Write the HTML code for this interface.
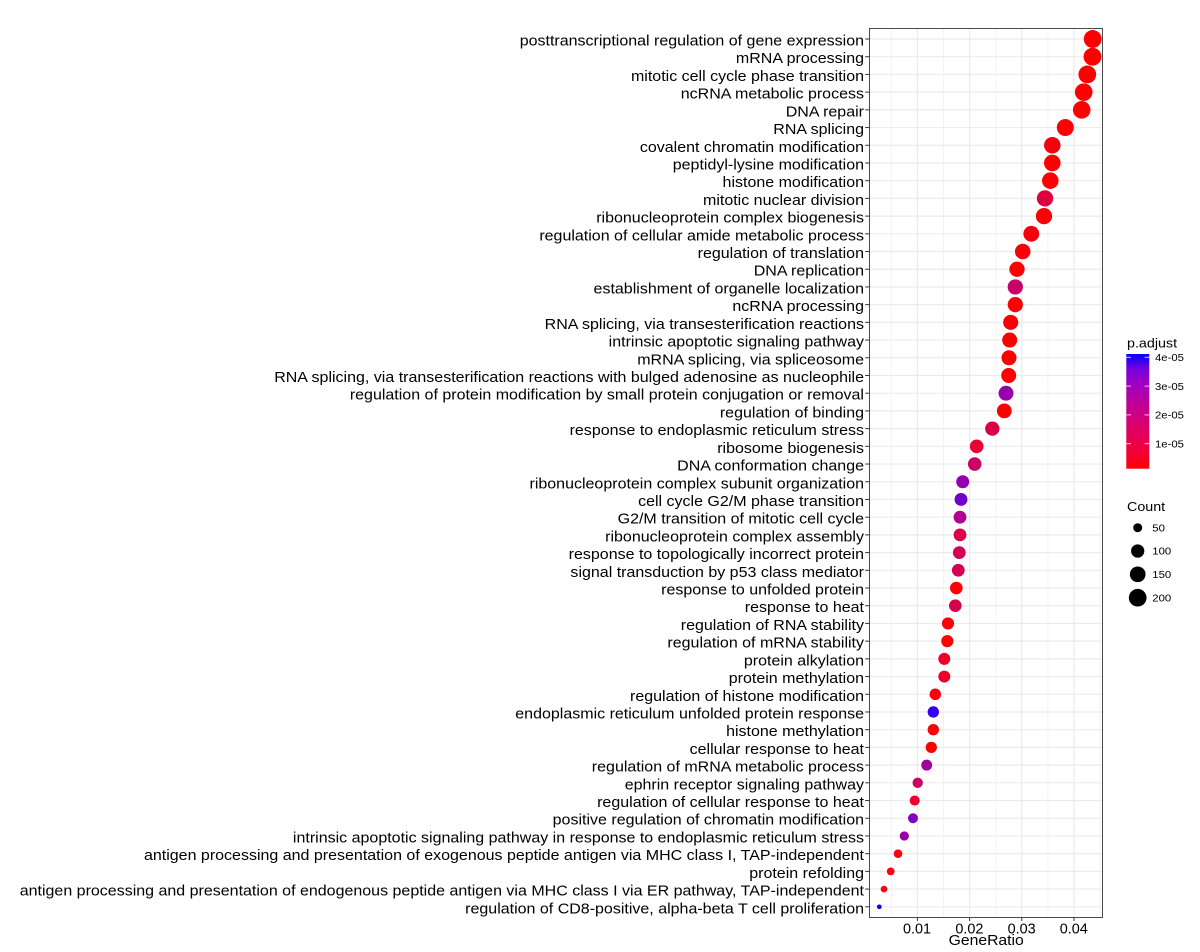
<!DOCTYPE html>
<html>
<head>
<meta charset="utf-8">
<style>
html,body{margin:0;padding:0;background:#fff;}
svg{display:block;}
text{font-family:"Liberation Sans",Arial,sans-serif;fill:#000;}
</style>
</head>
<body>
<svg width="1200" height="952" viewBox="0 0 1200 952" xmlns="http://www.w3.org/2000/svg">
<defs>
<linearGradient id="cb" x1="0" y1="1" x2="0" y2="0">
<stop offset="0" stop-color="#FF0000"/>
<stop offset="0.125" stop-color="#F40031"/>
<stop offset="0.25" stop-color="#E8004F"/>
<stop offset="0.375" stop-color="#DA006C"/>
<stop offset="0.5" stop-color="#CA0089"/>
<stop offset="0.625" stop-color="#B500A5"/>
<stop offset="0.75" stop-color="#9A00C3"/>
<stop offset="0.875" stop-color="#7300E0"/>
<stop offset="1" stop-color="#0000FF"/>
</linearGradient>
</defs>
<rect x="0" y="0" width="1200" height="952" fill="#fff"/>

<rect x="869.5" y="28.5" width="233" height="889" fill="#fff"/>

<g stroke="#F2F2F2" stroke-width="0.9">
<line x1="891.3" y1="29" x2="891.3" y2="917"/>
<line x1="943.5" y1="29" x2="943.5" y2="917"/>
<line x1="995.7" y1="29" x2="995.7" y2="917"/>
<line x1="1047.9" y1="29" x2="1047.9" y2="917"/>
<line x1="1100.1" y1="29" x2="1100.1" y2="917"/>
</g>
<g stroke="#EBEBEB" stroke-width="1.2">
<line x1="917.4" y1="29" x2="917.4" y2="917"/>
<line x1="969.6" y1="29" x2="969.6" y2="917"/>
<line x1="1021.8" y1="29" x2="1021.8" y2="917"/>
<line x1="1074.0" y1="29" x2="1074.0" y2="917"/>
</g>
<g stroke="#EBEBEB" stroke-width="1.2">
<line x1="870" x2="1102" y1="39.0" y2="39.0"/>
<line x1="870" x2="1102" y1="56.71" y2="56.71"/>
<line x1="870" x2="1102" y1="74.42" y2="74.42"/>
<line x1="870" x2="1102" y1="92.13" y2="92.13"/>
<line x1="870" x2="1102" y1="109.84" y2="109.84"/>
<line x1="870" x2="1102" y1="127.55" y2="127.55"/>
<line x1="870" x2="1102" y1="145.26" y2="145.26"/>
<line x1="870" x2="1102" y1="162.97" y2="162.97"/>
<line x1="870" x2="1102" y1="180.68" y2="180.68"/>
<line x1="870" x2="1102" y1="198.39" y2="198.39"/>
<line x1="870" x2="1102" y1="216.1" y2="216.1"/>
<line x1="870" x2="1102" y1="233.81" y2="233.81"/>
<line x1="870" x2="1102" y1="251.52" y2="251.52"/>
<line x1="870" x2="1102" y1="269.23" y2="269.23"/>
<line x1="870" x2="1102" y1="286.94" y2="286.94"/>
<line x1="870" x2="1102" y1="304.65" y2="304.65"/>
<line x1="870" x2="1102" y1="322.36" y2="322.36"/>
<line x1="870" x2="1102" y1="340.07" y2="340.07"/>
<line x1="870" x2="1102" y1="357.78" y2="357.78"/>
<line x1="870" x2="1102" y1="375.49" y2="375.49"/>
<line x1="870" x2="1102" y1="393.2" y2="393.2"/>
<line x1="870" x2="1102" y1="410.91" y2="410.91"/>
<line x1="870" x2="1102" y1="428.62" y2="428.62"/>
<line x1="870" x2="1102" y1="446.33" y2="446.33"/>
<line x1="870" x2="1102" y1="464.04" y2="464.04"/>
<line x1="870" x2="1102" y1="481.75" y2="481.75"/>
<line x1="870" x2="1102" y1="499.46" y2="499.46"/>
<line x1="870" x2="1102" y1="517.17" y2="517.17"/>
<line x1="870" x2="1102" y1="534.88" y2="534.88"/>
<line x1="870" x2="1102" y1="552.59" y2="552.59"/>
<line x1="870" x2="1102" y1="570.3" y2="570.3"/>
<line x1="870" x2="1102" y1="588.01" y2="588.01"/>
<line x1="870" x2="1102" y1="605.72" y2="605.72"/>
<line x1="870" x2="1102" y1="623.43" y2="623.43"/>
<line x1="870" x2="1102" y1="641.14" y2="641.14"/>
<line x1="870" x2="1102" y1="658.85" y2="658.85"/>
<line x1="870" x2="1102" y1="676.56" y2="676.56"/>
<line x1="870" x2="1102" y1="694.27" y2="694.27"/>
<line x1="870" x2="1102" y1="711.98" y2="711.98"/>
<line x1="870" x2="1102" y1="729.69" y2="729.69"/>
<line x1="870" x2="1102" y1="747.4" y2="747.4"/>
<line x1="870" x2="1102" y1="765.11" y2="765.11"/>
<line x1="870" x2="1102" y1="782.82" y2="782.82"/>
<line x1="870" x2="1102" y1="800.53" y2="800.53"/>
<line x1="870" x2="1102" y1="818.24" y2="818.24"/>
<line x1="870" x2="1102" y1="835.95" y2="835.95"/>
<line x1="870" x2="1102" y1="853.66" y2="853.66"/>
<line x1="870" x2="1102" y1="871.37" y2="871.37"/>
<line x1="870" x2="1102" y1="889.08" y2="889.08"/>
<line x1="870" x2="1102" y1="906.79" y2="906.79"/>
</g>

<g>
<circle cx="1092.7" cy="39.0" r="8.95" fill="#FF0000"/>
<circle cx="1092.5" cy="56.71" r="8.95" fill="#FF0000"/>
<circle cx="1087.3" cy="74.42" r="8.87" fill="#FF0000"/>
<circle cx="1083.7" cy="92.13" r="8.81" fill="#FF0000"/>
<circle cx="1081.7" cy="109.84" r="8.78" fill="#FF0000"/>
<circle cx="1065.3" cy="127.55" r="8.51" fill="#FF0000"/>
<circle cx="1052.3" cy="145.26" r="8.29" fill="#F5000F"/>
<circle cx="1052.3" cy="162.97" r="8.29" fill="#FF0000"/>
<circle cx="1050.3" cy="180.68" r="8.26" fill="#FD0004"/>
<circle cx="1045.0" cy="198.39" r="8.17" fill="#E0003E"/>
<circle cx="1044.0" cy="216.1" r="8.15" fill="#FD0006"/>
<circle cx="1031.3" cy="233.81" r="7.92" fill="#F5000F"/>
<circle cx="1022.7" cy="251.52" r="7.76" fill="#FC0008"/>
<circle cx="1017.0" cy="269.23" r="7.65" fill="#FF0000"/>
<circle cx="1015.3" cy="286.94" r="7.62" fill="#C8006A"/>
<circle cx="1015.3" cy="304.65" r="7.62" fill="#FF0000"/>
<circle cx="1010.7" cy="322.36" r="7.53" fill="#FC0008"/>
<circle cx="1009.7" cy="340.07" r="7.51" fill="#FF0000"/>
<circle cx="1009.0" cy="357.78" r="7.50" fill="#FF0000"/>
<circle cx="1008.7" cy="375.49" r="7.49" fill="#FF0000"/>
<circle cx="1006.0" cy="393.2" r="7.44" fill="#9600AA"/>
<circle cx="1004.3" cy="410.91" r="7.40" fill="#FF0000"/>
<circle cx="992.3" cy="428.62" r="7.15" fill="#DA0048"/>
<circle cx="976.7" cy="446.33" r="6.81" fill="#EA0035"/>
<circle cx="974.7" cy="464.04" r="6.76" fill="#CA0068"/>
<circle cx="962.7" cy="481.75" r="6.48" fill="#9200B0"/>
<circle cx="961.0" cy="499.46" r="6.43" fill="#7000CC"/>
<circle cx="960.0" cy="517.17" r="6.41" fill="#B20090"/>
<circle cx="960.0" cy="534.88" r="6.41" fill="#DA004A"/>
<circle cx="959.3" cy="552.59" r="6.39" fill="#D20058"/>
<circle cx="958.3" cy="570.3" r="6.37" fill="#D40055"/>
<circle cx="956.3" cy="588.01" r="6.31" fill="#FF0008"/>
<circle cx="955.3" cy="605.72" r="6.29" fill="#D8004C"/>
<circle cx="948.0" cy="623.43" r="6.10" fill="#FF0008"/>
<circle cx="947.3" cy="641.14" r="6.08" fill="#FF0005"/>
<circle cx="944.3" cy="658.85" r="5.99" fill="#EE0028"/>
<circle cx="944.3" cy="676.56" r="5.99" fill="#EE0028"/>
<circle cx="935.3" cy="694.27" r="5.73" fill="#F8000E"/>
<circle cx="933.3" cy="711.98" r="5.67" fill="#3300EE"/>
<circle cx="933.3" cy="729.69" r="5.67" fill="#FF0008"/>
<circle cx="931.3" cy="747.4" r="5.61" fill="#FF0000"/>
<circle cx="926.7" cy="765.11" r="5.46" fill="#A0009E"/>
<circle cx="917.7" cy="782.82" r="5.15" fill="#CA0062"/>
<circle cx="914.7" cy="800.53" r="5.04" fill="#EE002E"/>
<circle cx="913.0" cy="818.24" r="4.97" fill="#8000C4"/>
<circle cx="904.3" cy="835.95" r="4.61" fill="#9A00AA"/>
<circle cx="898.0" cy="853.66" r="4.30" fill="#FF0010"/>
<circle cx="890.7" cy="871.37" r="3.88" fill="#FF0010"/>
<circle cx="884.0" cy="889.08" r="3.33" fill="#FF0010"/>
<circle cx="879.3" cy="906.79" r="2.35" fill="#0000FF"/>
</g>

<rect x="869.5" y="28.5" width="233" height="889" fill="none" stroke="#4a4a4a" stroke-width="1"/>

<g stroke="#333" stroke-width="1">
<line x1="865.2" x2="869.5" y1="39.0" y2="39.0"/>
<line x1="865.2" x2="869.5" y1="56.71" y2="56.71"/>
<line x1="865.2" x2="869.5" y1="74.42" y2="74.42"/>
<line x1="865.2" x2="869.5" y1="92.13" y2="92.13"/>
<line x1="865.2" x2="869.5" y1="109.84" y2="109.84"/>
<line x1="865.2" x2="869.5" y1="127.55" y2="127.55"/>
<line x1="865.2" x2="869.5" y1="145.26" y2="145.26"/>
<line x1="865.2" x2="869.5" y1="162.97" y2="162.97"/>
<line x1="865.2" x2="869.5" y1="180.68" y2="180.68"/>
<line x1="865.2" x2="869.5" y1="198.39" y2="198.39"/>
<line x1="865.2" x2="869.5" y1="216.1" y2="216.1"/>
<line x1="865.2" x2="869.5" y1="233.81" y2="233.81"/>
<line x1="865.2" x2="869.5" y1="251.52" y2="251.52"/>
<line x1="865.2" x2="869.5" y1="269.23" y2="269.23"/>
<line x1="865.2" x2="869.5" y1="286.94" y2="286.94"/>
<line x1="865.2" x2="869.5" y1="304.65" y2="304.65"/>
<line x1="865.2" x2="869.5" y1="322.36" y2="322.36"/>
<line x1="865.2" x2="869.5" y1="340.07" y2="340.07"/>
<line x1="865.2" x2="869.5" y1="357.78" y2="357.78"/>
<line x1="865.2" x2="869.5" y1="375.49" y2="375.49"/>
<line x1="865.2" x2="869.5" y1="393.2" y2="393.2"/>
<line x1="865.2" x2="869.5" y1="410.91" y2="410.91"/>
<line x1="865.2" x2="869.5" y1="428.62" y2="428.62"/>
<line x1="865.2" x2="869.5" y1="446.33" y2="446.33"/>
<line x1="865.2" x2="869.5" y1="464.04" y2="464.04"/>
<line x1="865.2" x2="869.5" y1="481.75" y2="481.75"/>
<line x1="865.2" x2="869.5" y1="499.46" y2="499.46"/>
<line x1="865.2" x2="869.5" y1="517.17" y2="517.17"/>
<line x1="865.2" x2="869.5" y1="534.88" y2="534.88"/>
<line x1="865.2" x2="869.5" y1="552.59" y2="552.59"/>
<line x1="865.2" x2="869.5" y1="570.3" y2="570.3"/>
<line x1="865.2" x2="869.5" y1="588.01" y2="588.01"/>
<line x1="865.2" x2="869.5" y1="605.72" y2="605.72"/>
<line x1="865.2" x2="869.5" y1="623.43" y2="623.43"/>
<line x1="865.2" x2="869.5" y1="641.14" y2="641.14"/>
<line x1="865.2" x2="869.5" y1="658.85" y2="658.85"/>
<line x1="865.2" x2="869.5" y1="676.56" y2="676.56"/>
<line x1="865.2" x2="869.5" y1="694.27" y2="694.27"/>
<line x1="865.2" x2="869.5" y1="711.98" y2="711.98"/>
<line x1="865.2" x2="869.5" y1="729.69" y2="729.69"/>
<line x1="865.2" x2="869.5" y1="747.4" y2="747.4"/>
<line x1="865.2" x2="869.5" y1="765.11" y2="765.11"/>
<line x1="865.2" x2="869.5" y1="782.82" y2="782.82"/>
<line x1="865.2" x2="869.5" y1="800.53" y2="800.53"/>
<line x1="865.2" x2="869.5" y1="818.24" y2="818.24"/>
<line x1="865.2" x2="869.5" y1="835.95" y2="835.95"/>
<line x1="865.2" x2="869.5" y1="853.66" y2="853.66"/>
<line x1="865.2" x2="869.5" y1="871.37" y2="871.37"/>
<line x1="865.2" x2="869.5" y1="889.08" y2="889.08"/>
<line x1="865.2" x2="869.5" y1="906.79" y2="906.79"/>
</g>

<g stroke="#333" stroke-width="1">
<line x1="917.4" x2="917.4" y1="917.5" y2="921"/>
<line x1="969.6" x2="969.6" y1="917.5" y2="921"/>
<line x1="1021.8" x2="1021.8" y1="917.5" y2="921"/>
<line x1="1074.0" x2="1074.0" y1="917.5" y2="921"/>
</g>

<g font-size="14.4" text-anchor="end">
<text transform="translate(864 45.5) scale(1.112 1)">posttranscriptional regulation of gene expression</text>
<text transform="translate(864 63.21) scale(1.112 1)">mRNA processing</text>
<text transform="translate(864 80.92) scale(1.112 1)">mitotic cell cycle phase transition</text>
<text transform="translate(864 98.63) scale(1.112 1)">ncRNA metabolic process</text>
<text transform="translate(864 116.34) scale(1.112 1)">DNA repair</text>
<text transform="translate(864 134.05) scale(1.112 1)">RNA splicing</text>
<text transform="translate(864 151.76) scale(1.112 1)">covalent chromatin modification</text>
<text transform="translate(864 169.47) scale(1.112 1)">peptidyl-lysine modification</text>
<text transform="translate(864 187.18) scale(1.112 1)">histone modification</text>
<text transform="translate(864 204.89) scale(1.112 1)">mitotic nuclear division</text>
<text transform="translate(864 222.6) scale(1.112 1)">ribonucleoprotein complex biogenesis</text>
<text transform="translate(864 240.31) scale(1.112 1)">regulation of cellular amide metabolic process</text>
<text transform="translate(864 258.02) scale(1.112 1)">regulation of translation</text>
<text transform="translate(864 275.73) scale(1.112 1)">DNA replication</text>
<text transform="translate(864 293.44) scale(1.112 1)">establishment of organelle localization</text>
<text transform="translate(864 311.15) scale(1.112 1)">ncRNA processing</text>
<text transform="translate(864 328.86) scale(1.112 1)">RNA splicing, via transesterification reactions</text>
<text transform="translate(864 346.57) scale(1.112 1)">intrinsic apoptotic signaling pathway</text>
<text transform="translate(864 364.28) scale(1.112 1)">mRNA splicing, via spliceosome</text>
<text transform="translate(864 381.99) scale(1.112 1)">RNA splicing, via transesterification reactions with bulged adenosine as nucleophile</text>
<text transform="translate(864 399.7) scale(1.112 1)">regulation of protein modification by small protein conjugation or removal</text>
<text transform="translate(864 417.41) scale(1.112 1)">regulation of binding</text>
<text transform="translate(864 435.12) scale(1.112 1)">response to endoplasmic reticulum stress</text>
<text transform="translate(864 452.83) scale(1.112 1)">ribosome biogenesis</text>
<text transform="translate(864 470.54) scale(1.112 1)">DNA conformation change</text>
<text transform="translate(864 488.25) scale(1.112 1)">ribonucleoprotein complex subunit organization</text>
<text transform="translate(864 505.96) scale(1.112 1)">cell cycle G2/M phase transition</text>
<text transform="translate(864 523.67) scale(1.112 1)">G2/M transition of mitotic cell cycle</text>
<text transform="translate(864 541.38) scale(1.112 1)">ribonucleoprotein complex assembly</text>
<text transform="translate(864 559.09) scale(1.112 1)">response to topologically incorrect protein</text>
<text transform="translate(864 576.8) scale(1.112 1)">signal transduction by p53 class mediator</text>
<text transform="translate(864 594.51) scale(1.112 1)">response to unfolded protein</text>
<text transform="translate(864 612.22) scale(1.112 1)">response to heat</text>
<text transform="translate(864 629.93) scale(1.112 1)">regulation of RNA stability</text>
<text transform="translate(864 647.64) scale(1.112 1)">regulation of mRNA stability</text>
<text transform="translate(864 665.35) scale(1.112 1)">protein alkylation</text>
<text transform="translate(864 683.06) scale(1.112 1)">protein methylation</text>
<text transform="translate(864 700.77) scale(1.112 1)">regulation of histone modification</text>
<text transform="translate(864 718.48) scale(1.112 1)">endoplasmic reticulum unfolded protein response</text>
<text transform="translate(864 736.19) scale(1.112 1)">histone methylation</text>
<text transform="translate(864 753.9) scale(1.112 1)">cellular response to heat</text>
<text transform="translate(864 771.61) scale(1.112 1)">regulation of mRNA metabolic process</text>
<text transform="translate(864 789.32) scale(1.112 1)">ephrin receptor signaling pathway</text>
<text transform="translate(864 807.03) scale(1.112 1)">regulation of cellular response to heat</text>
<text transform="translate(864 824.74) scale(1.112 1)">positive regulation of chromatin modification</text>
<text transform="translate(864 842.45) scale(1.112 1)">intrinsic apoptotic signaling pathway in response to endoplasmic reticulum stress</text>
<text transform="translate(864 860.16) scale(1.112 1)">antigen processing and presentation of exogenous peptide antigen via MHC class I, TAP-independent</text>
<text transform="translate(864 877.87) scale(1.112 1)">protein refolding</text>
<text transform="translate(864 895.58) scale(1.112 1)">antigen processing and presentation of endogenous peptide antigen via MHC class I via ER pathway, TAP-independent</text>
<text transform="translate(864 913.29) scale(1.112 1)">regulation of CD8-positive, alpha-beta T cell proliferation</text>
</g>

<g font-size="14.4" text-anchor="middle">
<text x="917.0" y="933.7">0.01</text>
<text x="969.4" y="933.7">0.02</text>
<text x="1021.6" y="933.7">0.03</text>
<text x="1073.8" y="933.7">0.04</text>
</g>
<text transform="translate(986.2 945) scale(1.05 1)" font-size="15" text-anchor="middle">GeneRatio</text>

<text transform="translate(1127 347.5) scale(1.1 1)" font-size="13">p.adjust</text>
<rect x="1126.3" y="354" width="23" height="114.7" fill="url(#cb)"/>
<g stroke="#fff" stroke-opacity="0.75" stroke-width="1">
<line x1="1126.3" x2="1131" y1="357.3" y2="357.3"/>
<line x1="1144.6" x2="1149.3" y1="357.3" y2="357.3"/>
<line x1="1126.3" x2="1131" y1="386.1" y2="386.1"/>
<line x1="1144.6" x2="1149.3" y1="386.1" y2="386.1"/>
<line x1="1126.3" x2="1131" y1="414.9" y2="414.9"/>
<line x1="1144.6" x2="1149.3" y1="414.9" y2="414.9"/>
<line x1="1126.3" x2="1131" y1="443.7" y2="443.7"/>
<line x1="1144.6" x2="1149.3" y1="443.7" y2="443.7"/>
</g>
<g font-size="10.3">
<text transform="translate(1155 361.1) scale(1.1 1)">4e-05</text>
<text transform="translate(1155 389.9) scale(1.1 1)">3e-05</text>
<text transform="translate(1155 418.7) scale(1.1 1)">2e-05</text>
<text transform="translate(1155 447.5) scale(1.1 1)">1e-05</text>
</g>

<text transform="translate(1127 511) scale(1.1 1)" font-size="13">Count</text>
<circle cx="1137.7" cy="527.7" r="4.5" fill="#000"/>
<circle cx="1137.7" cy="551" r="6.65" fill="#000"/>
<circle cx="1137.7" cy="574.3" r="7.85" fill="#000"/>
<circle cx="1137.7" cy="597.7" r="8.85" fill="#000"/>
<g font-size="10.3">
<text transform="translate(1152.3 531.4) scale(1.1 1)">50</text>
<text transform="translate(1152.3 554.7) scale(1.1 1)">100</text>
<text transform="translate(1152.3 578) scale(1.1 1)">150</text>
<text transform="translate(1152.3 601.4) scale(1.1 1)">200</text>
</g>
</svg>
</body>
</html>
